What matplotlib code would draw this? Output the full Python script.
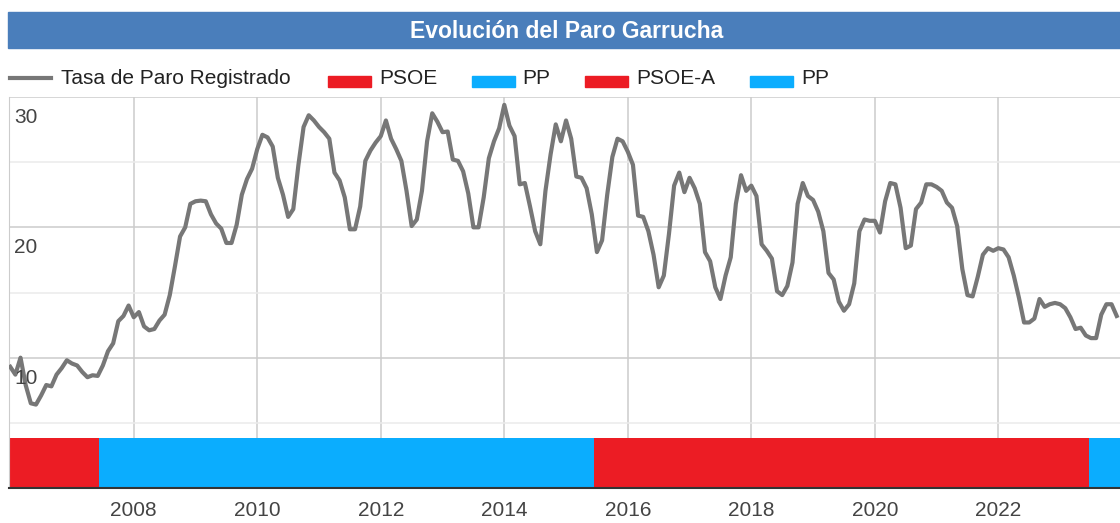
import matplotlib.pyplot as plt
from matplotlib.patches import Rectangle
from matplotlib.lines import Line2D

plt.rcParams['font.family'] = ['Liberation Sans', 'DejaVu Sans']

# tasa de paro registrado, valores mensuales (ene-dic) por año
paro_2006 = [9.3, 8.7, 10.0, 7.9, 6.5, 6.4, 7.1, 7.9, 7.8, 8.7, 9.2, 9.8]
paro_2007 = [9.55, 9.4, 8.9, 8.5, 8.65, 8.6, 9.4, 10.5, 11.1, 12.8, 13.2, 14.0]
paro_2008 = [13.1, 13.5, 12.4, 12.1, 12.2, 12.85, 13.3, 14.8, 17.0, 19.3, 20.0, 21.8]
paro_2009 = [22.0, 22.05, 22.0, 21.0, 20.3, 19.9, 18.8, 18.8, 20.2, 22.5, 23.7, 24.5]
paro_2010 = [26.0, 27.1, 26.9, 26.2, 23.8, 22.5, 20.8, 21.4, 24.8, 27.7, 28.6, 28.2]
paro_2011 = [27.7, 27.3, 26.8, 24.2, 23.6, 22.3, 19.85, 19.85, 21.6, 25.1, 25.9, 26.5]
paro_2012 = [27.0, 28.2, 26.8, 26.0, 25.1, 22.8, 20.1, 20.6, 22.8, 26.6, 28.75, 28.1]
paro_2013 = [27.3, 27.35, 25.2, 25.1, 24.3, 22.6, 20.0, 20.0, 22.3, 25.3, 26.6, 27.6]
paro_2014 = [29.4, 27.8, 27.0, 23.3, 23.4, 21.6, 19.7, 18.7, 22.8, 25.6, 27.9, 26.6]
paro_2015 = [28.2, 26.8, 23.9, 23.8, 23.0, 21.0, 18.1, 19.0, 22.5, 25.4, 26.8, 26.6]
paro_2016 = [25.8, 24.8, 20.9, 20.8, 19.7, 17.9, 15.4, 16.3, 19.5, 23.2, 24.2, 22.7]
paro_2017 = [23.8, 23.0, 21.8, 18.1, 17.4, 15.4, 14.5, 16.3, 17.7, 21.8, 24.0, 22.8]
paro_2018 = [23.2, 22.4, 18.7, 18.2, 17.6, 15.1, 14.8, 15.5, 17.3, 21.8, 23.4, 22.4]
paro_2019 = [22.1, 21.2, 19.7, 16.5, 16.0, 14.3, 13.6, 14.1, 15.7, 19.7, 20.6, 20.5]
paro_2020 = [20.5, 19.6, 22.0, 23.4, 23.3, 21.5, 18.4, 18.6, 21.4, 21.9, 23.3, 23.3]
paro_2021 = [23.1, 22.8, 21.9, 21.5, 20.1, 16.8, 14.8, 14.7, 16.2, 17.9, 18.4, 18.2]
paro_2022 = [18.4, 18.3, 17.7, 16.3, 14.6, 12.7, 12.7, 13.0, 14.5, 13.9, 14.1, 14.2]
paro_2023 = [14.1, 13.8, 13.1, 12.2, 12.3, 11.7, 11.5, 11.5, 13.3, 14.1, 14.1, 13.2]

years = list(range(2006, 2024))
paro = (paro_2006 + paro_2007 + paro_2008 + paro_2009 + paro_2010 + paro_2011 +
        paro_2012 + paro_2013 + paro_2014 + paro_2015 + paro_2016 + paro_2017 +
        paro_2018 + paro_2019 + paro_2020 + paro_2021 + paro_2022 + paro_2023)
fechas = [y + m / 12 for y in years for m in range(12)]

# gobiernos
partidos = ['PSOE', 'PP', 'PSOE-A', 'PP']
inicio = [2006.0, 2007.43, 2015.45, 2023.47]
fin = [2007.43, 2015.45, 2023.47, 2024.5]
colores = ['#ec1c24', '#0badfe', '#ec1c24', '#0badfe']

W, H = 1120, 523
fig = plt.figure(figsize=(W / 100, H / 100), dpi=100)

# barra del titulo
fig.add_artist(Rectangle((8 / W, 1 - 48 / H), 1112 / W, 36 / H,
                         transform=fig.transFigure, color='#4a7ebb'))
fig.text(567 / W, 1 - 38 / H, 'Evolución del Paro Garrucha', ha='center',
         va='baseline', color='white', fontsize=16.5, fontweight='bold')

# leyenda
fig.add_artist(Line2D([10 / W, 51 / W], [1 - 78 / H, 1 - 78 / H], color='#777777',
                      lw=3, transform=fig.transFigure))
fig.text(61 / W, 1 - 84 / H, 'Tasa de Paro Registrado', va='baseline',
         fontsize=15, color='#222222')
sw_x = [328, 472, 585, 750]
tx_x = [379, 522, 636, 801]
for p, c, sx, tx in zip(partidos, colores, sw_x, tx_x):
    fig.add_artist(Rectangle((sx / W, 1 - 87 / H), 43 / W, 11 / H,
                             transform=fig.transFigure, color=c))
    fig.text(tx / W, 1 - 84 / H, p, va='baseline', fontsize=15, color='#222222')

ax = fig.add_axes([9 / W, 1 - 488 / H, 1 - 9 / W, (488 - 97) / H])

band_top = 3.83
for s, e, c in zip(inicio, fin, colores):
    ax.bar(s, band_top, width=e - s, bottom=0, align='edge', color=c,
           linewidth=0, zorder=2)

ax.plot(fechas, paro, color='#777777', lw=3, zorder=3, solid_joinstyle='round')

ax.set_xlim(2005.98, 2023.97)
ax.set_ylim(0, 30)
ax.set_xticks(range(2008, 2023, 2))
ax.set_yticks([10, 20, 30])
ax.set_yticks([5, 15, 25], minor=True)
ax.set_yticklabels([])
ax.tick_params(axis='both', which='both', length=0)
ax.tick_params(axis='x', pad=9, labelsize=15, labelcolor='#444444')
ax.set_axisbelow(True)
ax.grid(which='major', color='#cccccc', lw=1.1)
ax.grid(which='minor', axis='y', color='#ebebeb', lw=1.1)

for v in [10, 20, 30]:
    ax.annotate(str(v), xy=(0, v), xycoords=('axes fraction', 'data'),
                xytext=(5, -26), textcoords='offset pixels', va='baseline',
                ha='left', fontsize=15, color='#444444', zorder=4)

for side in ['top', 'right']:
    ax.spines[side].set_visible(False)
ax.spines['left'].set_color('#cccccc')
ax.spines['bottom'].set_color('#333333')
ax.spines['bottom'].set_linewidth(1.5)

fig.savefig('out.png', dpi=100)
